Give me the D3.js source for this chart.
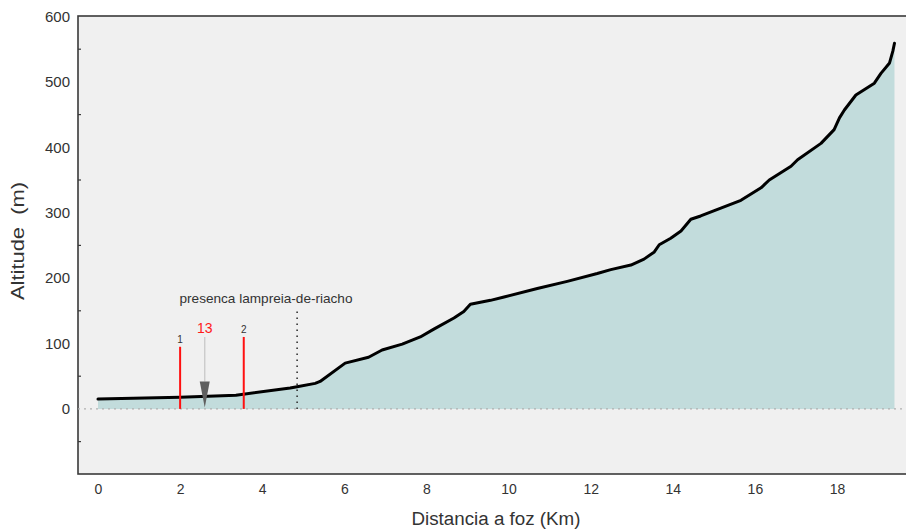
<!DOCTYPE html>
<html>
<head>
<meta charset="utf-8">
<script src="https://cdn.jsdelivr.net/npm/d3@7"></script>
<style>
  html, body { margin: 0; padding: 0; background: #ffffff; }
  svg { display: block; font-family: "Liberation Sans", Arial, sans-serif; }
</style>
</head>
<body>
<svg id="chart" width="906" height="529"></svg>
<script>
// Longitudinal river profile: distance from the mouth (km) vs altitude (m)
const distanceKm = [0, 2, 3.36, 4.68, 4.85, 5.29, 5.41, 6.02, 6.59, 6.92, 7.41, 7.85, 8.18, 8.67, 8.91, 9.07,
  9.56, 9.89, 10.7, 11.43, 12.16, 12.49, 12.98, 13.3, 13.55, 13.67, 13.95, 14.2, 14.44, 14.68,
  15.17, 15.66, 16.15, 16.35, 16.63, 16.88, 17.04, 17.61, 17.93, 18.06, 18.18, 18.46, 18.91,
  19.07, 19.28, 19.36, 19.4];
const altitudeM = [15, 18, 21, 32, 34, 39, 42, 70, 79, 90, 99, 110, 122, 139, 149, 160,
  166, 171, 184, 195, 207, 213, 220, 229, 240, 251, 261, 272, 290, 295,
  307, 319, 338, 350, 361, 371, 381, 406, 427, 445, 457, 480, 498,
  513, 529, 547, 559];

// Sampling stations (red bars) and the observation arrow
const stationKm = [2, 3.55];
const stationTopM = [95, 110];
const stationLabels = ["1", "2"];
const arrowKm = 2.6;
const arrowTopM = 110;
const arrowHeadM = 42;
const arrowLabel = "13";
const presenceKm = 4.85;
const presenceTopM = 149;
const presenceLabel = "presenca lampreia-de-riacho";

const xTicks = [0, 2, 4, 6, 8, 10, 12, 14, 16, 18];
const yTicks = [0, 100, 200, 300, 400, 500, 600];
const yMinorTicks = [-50, 50, 150, 250, 350, 450, 550];

const svg = d3.select("#chart");
const plot = { left: 78, top: 16, right: 910, bottom: 474 };

const x = d3.scaleLinear().domain([0, 18]).range([98, 837]);
const y = d3.scaleLinear().domain([-100, 600]).range([474.3, 16.5]);

// plot panel
svg.append("rect")
  .attr("x", plot.left).attr("y", plot.top)
  .attr("width", plot.right - plot.left).attr("height", plot.bottom - plot.top)
  .attr("fill", "#f0f0f0").attr("stroke", "#3a3a3a").attr("stroke-width", 1.6);

const pts = distanceKm.map((d, i) => [d, altitudeM[i]]);

// filled profile
svg.append("path")
  .datum(pts)
  .attr("fill", "#c2dcdc")
  .attr("d", d3.area().x(d => x(d[0])).y0(y(0)).y1(d => y(d[1])));

// zero reference line
svg.append("line")
  .attr("x1", plot.left).attr("x2", plot.right)
  .attr("y1", y(0)).attr("y2", y(0))
  .attr("stroke", "#b0b0b0").attr("stroke-width", 1.3)
  .attr("stroke-dasharray", "2,4");

// profile line
svg.append("path")
  .datum(pts)
  .attr("fill", "none")
  .attr("stroke", "#000")
  .attr("stroke-width", 3)
  .attr("stroke-linejoin", "round")
  .attr("stroke-linecap", "round")
  .attr("d", d3.line().x(d => x(d[0])).y(d => y(d[1])));

// y axis: labels and inner minor ticks
const yAxis = d3.axisLeft(y).tickValues(yTicks).tickSize(0).tickPadding(8);
const gy = svg.append("g").attr("transform", `translate(${plot.left},0)`).call(yAxis);
gy.select(".domain").remove();
gy.selectAll("text").attr("font-size", 15).attr("fill", "#333")
  .attr("font-family", "'Liberation Sans', Arial, sans-serif");

svg.append("g").selectAll("line").data(yMinorTicks).join("line")
  .attr("x1", plot.left).attr("x2", plot.left + 3)
  .attr("y1", d => y(d)).attr("y2", d => y(d))
  .attr("stroke", "#3a3a3a").attr("stroke-width", 1.2);

// x axis labels
const xAxis = d3.axisBottom(x).tickValues(xTicks).tickSize(0).tickPadding(10);
const gx = svg.append("g").attr("transform", `translate(0,${plot.bottom})`).call(xAxis);
gx.select(".domain").remove();
gx.selectAll("text").attr("font-size", 14).attr("fill", "#333")
  .attr("font-family", "'Liberation Sans Narrow', 'Liberation Sans', Arial, sans-serif");

// axis titles
svg.append("text")
  .attr("x", 496).attr("y", 525)
  .attr("text-anchor", "middle").attr("font-size", 18).attr("fill", "#333")
  .attr("font-family", "'Liberation Sans Narrow', 'Liberation Sans', Arial, sans-serif")
  .attr("textLength", 169).attr("lengthAdjust", "spacingAndGlyphs")
  .text("Distancia a foz (Km)");
svg.append("text")
  .attr("transform", "translate(24,241) rotate(-90)")
  .attr("text-anchor", "middle").attr("font-size", 18).attr("fill", "#333")
  .attr("font-family", "'Liberation Sans Narrow', 'Liberation Sans', Arial, sans-serif")
  .style("white-space", "pre")
  .attr("textLength", 118).attr("lengthAdjust", "spacingAndGlyphs")
  .text("Altitude  (m)");

// sampling stations
stationKm.forEach((k, i) => {
  svg.append("line")
    .attr("x1", x(k)).attr("x2", x(k))
    .attr("y1", y(0)).attr("y2", y(stationTopM[i]))
    .attr("stroke", "#ff1010").attr("stroke-width", 2);
  svg.append("text")
    .attr("x", x(k)).attr("y", y(stationTopM[i]) - 4)
    .attr("text-anchor", "middle").attr("font-size", 10).attr("fill", "#333")
    .text(stationLabels[i]);
});

// observation arrow
svg.append("line")
  .attr("x1", x(arrowKm)).attr("x2", x(arrowKm))
  .attr("y1", y(arrowTopM)).attr("y2", y(arrowHeadM))
  .attr("stroke", "#c8c8c8").attr("stroke-width", 1.3);
svg.append("path")
  .attr("d", `M${x(arrowKm) - 5},${y(arrowHeadM)} L${x(arrowKm) + 5},${y(arrowHeadM)} L${x(arrowKm)},${y(2)} Z`)
  .attr("fill", "#5f5f5f");
svg.append("text")
  .attr("x", x(arrowKm)).attr("y", y(arrowTopM) - 4)
  .attr("text-anchor", "middle").attr("font-size", 14).attr("fill", "#ff1a1a")
  .text(arrowLabel);

// presence marker
svg.append("line")
  .attr("x1", x(presenceKm)).attr("x2", x(presenceKm))
  .attr("y1", y(0)).attr("y2", y(presenceTopM))
  .attr("stroke", "#333").attr("stroke-width", 1.6)
  .attr("stroke-dasharray", "1.5,4.5");
svg.append("text")
  .attr("x", 266).attr("y", 303)
  .attr("text-anchor", "middle").attr("font-size", 13).attr("fill", "#333")
  .attr("textLength", 173).attr("lengthAdjust", "spacingAndGlyphs")
  .text(presenceLabel);
</script>
</body>
</html>
